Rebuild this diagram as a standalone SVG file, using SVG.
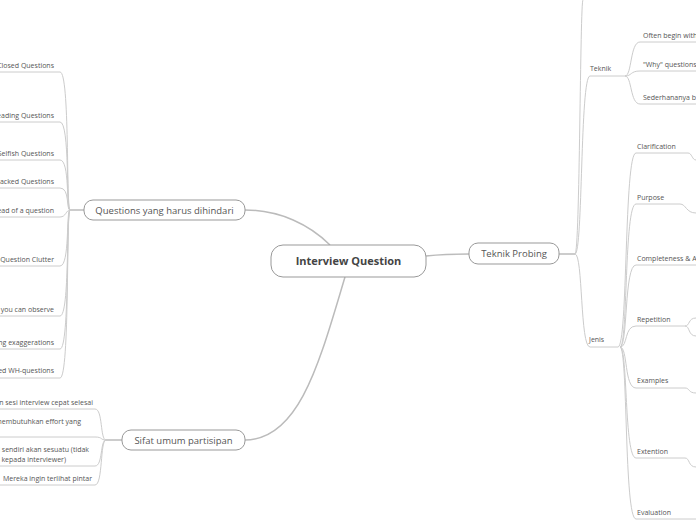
<svg xmlns="http://www.w3.org/2000/svg" width="696" height="520" viewBox="0 0 696 520">
<style>
text{font-family:"Open Sans","Noto Sans",sans-serif;fill:#555}
.s{font-size:7px}
.m{font-size:9.5px}
.c{font-size:11px;font-weight:bold;fill:#444}
.n{fill:#fff;stroke:#999;stroke-width:1}
.l{fill:none;stroke:#ccc;stroke-width:1}
.t{fill:none;stroke:#bbb;stroke-width:1.5}
</style>
<rect width="696" height="520" fill="#fff"/>
<g id="connectors">
<path class="t" d="M330 245 C310 225 280 210 245 210"/>
<path class="t" d="M345 277 C320 360 300 440 245 440"/>
<path class="t" d="M426 256 C445 254 450 254 469 254"/>
<path class="t" d="M84 210 L70 210"/>
<path class="t" d="M122 440 L106 440"/>
<path class="t" d="M559 254 L575 254"/>
<g class="l">
<path d="M0 72 H60 C70 72 66 210 70 210"/>
<path d="M0 122 H60 C70 122 66 210 70 210"/>
<path d="M0 160 H60 C70 160 66 210 70 210"/>
<path d="M0 188 H60 C70 188 66 210 70 210"/>
<path d="M0 217 H60 C66 217 66 210 70 210"/>
<path d="M0 266 H60 C70 266 66 210 70 210"/>
<path d="M0 316 H60 C70 316 66 210 70 210"/>
<path d="M0 349 H60 C70 349 66 210 70 210"/>
<path d="M0 378 H60 C70 378 66 210 70 210"/>
<path d="M0 409 H95 C103 409 100 440 106 440"/>
<path d="M0 437 H95 C103 437 100 440 106 440"/>
<path d="M0 466 H95 C103 466 100 440 106 440"/>
<path d="M0 485 H95 C103 485 100 440 106 440"/>
<path d="M575 254 C580 254 580 0 583 0"/>
<path d="M575 254 C583 254 580 76 590 76 H613"/>
<path d="M575 254 C583 254 580 347 590 347 H618"/>
<path d="M613 76 H625 C632 76 630 42 640 42 H696"/>
<path d="M625 76 C632 76 630 71 640 71 H696"/>
<path d="M625 76 C632 76 630 104 640 104 H696"/>
<path d="M618 347 C628 347 624 153 636 153 H688 C692 153 692 160 696 160"/>
<path d="M620 347 C628 347 624 204 636 204 H680 C686 204 686 213 696 213"/>
<path d="M620 347 C628 347 624 265 636 265 H696"/>
<path d="M620 347 C628 347 624 326 636 326 H685 C690 326 688 318 696 318"/>
<path d="M685 326 C690 326 688 336 696 336"/>
<path d="M620 347 C628 347 624 388 636 388 H685 C690 388 688 393 696 393"/>
<path d="M620 347 C628 347 624 458 636 458 H685 C690 458 688 467 696 467"/>
<path d="M620 347 C628 347 624 519 636 519 H696"/>
</g>
</g>
<g id="central"><rect class="n" x="271" y="245" width="155" height="32" rx="12" stroke-width="1.5"/><text class="c" x="348.5" y="265" text-anchor="middle">Interview Question</text></g>
<g id="questions"><rect class="n" x="84" y="200" width="161" height="20" rx="9"/><text class="m" x="164.5" y="214" text-anchor="middle">Questions yang harus dihindari</text></g>
<g id="sifat"><rect class="n" x="122" y="430" width="123" height="20" rx="9"/><text class="m" x="183.5" y="444" text-anchor="middle">Sifat umum partisipan</text></g>
<g id="teknikprobing"><rect class="n" x="469" y="243" width="90" height="21" rx="9"/><text class="m" x="514" y="257" text-anchor="middle">Teknik Probing</text></g>
<g id="leaves" class="s">
<text class="s" x="54" y="68" text-anchor="end">Closed Questions</text>
<text class="s" x="54" y="118" text-anchor="end">Leading Questions</text>
<text class="s" x="54" y="156" text-anchor="end">Selfish Questions</text>
<text class="s" x="54" y="184" text-anchor="end">Packed Questions</text>
<text class="s" x="54" y="213" text-anchor="end">Instead of a question</text>
<text class="s" x="54" y="262" text-anchor="end">Question Clutter</text>
<text class="s" x="54" y="312" text-anchor="end">Ask what you can observe</text>
<text class="s" x="54" y="345" text-anchor="end">Avoiding exaggerations</text>
<text class="s" x="54" y="373" text-anchor="end">Unrelated WH-questions</text>
<text class="s" x="93" y="405" text-anchor="end">Ingin sesi interview cepat selesai</text>
<text class="s" x="81" y="424" text-anchor="end">Tidak membutuhkan effort yang</text>
<text class="s" x="89" y="452" text-anchor="end">Menilai diri sendiri akan sesuatu (tidak</text>
<text class="s" x="66" y="462" text-anchor="end">jujur kepada interviewer)</text>
<text class="s" x="92" y="481" text-anchor="end">Mereka ingin terlihat pintar</text>
<text class="s" x="590" y="71">Teknik</text>
<text class="s" x="589" y="342">Jenis</text>
<text class="s" x="643" y="38">Often begin with</text>
<text class="s" x="643" y="67">"Why" questions</text>
<text class="s" x="643" y="100">Sederhananya b</text>
<text class="s" x="637" y="149">Clarification</text>
<text class="s" x="637" y="200">Purpose</text>
<text class="s" x="637" y="261">Completeness &amp; A</text>
<text class="s" x="637" y="322">Repetition</text>
<text class="s" x="637" y="383">Examples</text>
<text class="s" x="637" y="454">Extention</text>
<text class="s" x="637" y="515">Evaluation</text>
</g>
</svg>
